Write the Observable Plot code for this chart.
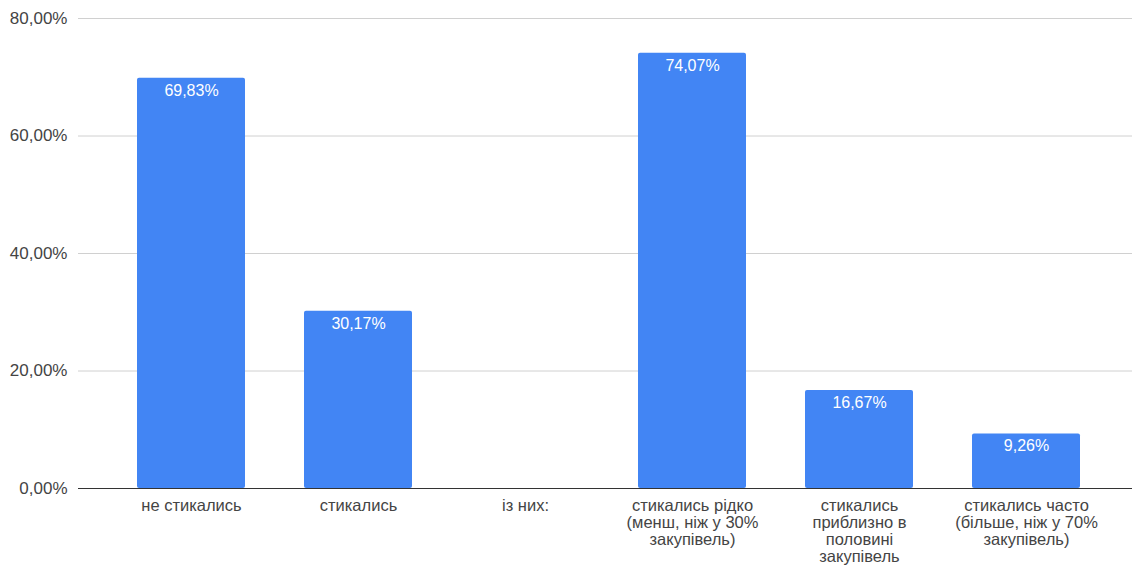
<!DOCTYPE html>
<html>
<head>
<meta charset="utf-8">
<script src="https://cdn.jsdelivr.net/npm/d3@7"></script>
<script src="https://cdn.jsdelivr.net/npm/@observablehq/plot@0.6"></script>
<style>
  html, body { margin: 0; padding: 0; background: #fff; }
  #chart svg { display: block; }
</style>
</head>
<body>
<div id="chart"></div>
<script>
const categories = [
  "не стикались",
  "стикались",
  "із них:",
  "стикались рідко\n(менш, ніж у 30%\nзакупівель)",
  "стикались\nприблизно в\nполовині\nзакупівель",
  "стикались часто\n(більше, ніж у 70%\nзакупівель)"
];
const values = [69.83, 30.17, null, 74.07, 16.67, 9.26];
const yTicks = [0, 20, 40, 60, 80];

const data = categories.map((c, i) => ({category: c, value: values[i]}));
const bars = data.filter(d => d.value != null);
const fmt = v => v.toFixed(2).replace(".", ",") + "%";

const chart = Plot.plot({
  width: 1132,
  height: 567,
  marginTop: 18,
  marginBottom: 79,
  marginLeft: 78,
  marginRight: 0,
  style: {fontFamily: "'Liberation Sans', Arial, sans-serif", fontSize: "16px", color: "#444", background: "#fff"},
  x: {domain: categories, range: [136, 1081], paddingInner: 0.354, paddingOuter: 0, label: null},
  y: {domain: [0, 80], label: null},
  marks: [
    Plot.ruleY(yTicks.filter(t => t > 0), {stroke: "#d0d0d0", strokeWidth: 1}),
    Plot.axisY({ticks: yTicks, tickFormat: fmt, tickSize: 0, tickPadding: 11, label: null, fontSize: 17, fill: "#444"}),
    Plot.axisX({tickSize: 0, tickPadding: 10, label: null, fontSize: 16.5, lineHeight: 1.04, fill: "#444"}),
    Plot.barY(bars, {x: "category", y: "value", fill: "#4285F4", rx: 2}),
    Plot.text(bars, {x: "category", y: "value", text: d => fmt(d.value), fill: "#fff", fontSize: 16, lineAnchor: "top", dy: 6}),
    Plot.ruleY([0], {stroke: "#333", strokeWidth: 1})
  ]
});
document.getElementById("chart").appendChild(chart);
</script>
</body>
</html>
